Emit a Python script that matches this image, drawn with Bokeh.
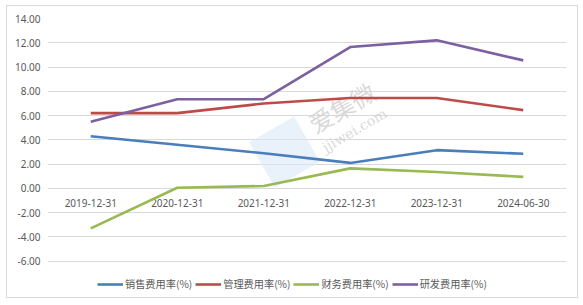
from bokeh.plotting import figure
from bokeh.models import (FixedTicker, NumeralTickFormatter, Legend, LegendItem,
                          ColumnDataSource, Range1d)
from bokeh.core.properties import value
from bokeh.transform import dodge
from bokeh.embed import file_html
from bokeh.resources import INLINE

dates = ["2019-12-31", "2020-12-31", "2021-12-31", "2022-12-31", "2023-12-31", "2024-06-30"]
sales = [4.3, 3.6, 2.9, 2.1, 3.15, 2.85]
admin = [6.2, 6.2, 7.0, 7.45, 7.45, 6.45]
finance = [-3.3, 0.05, 0.2, 1.65, 1.35, 0.95]
rnd = [5.5, 7.35, 7.35, 11.65, 12.2, 10.55]
names = ["销售费用率(%)", "管理费用率(%)", "财务费用率(%)", "研发费用率(%)"]
colors = ["#4a7ebb", "#be4b48", "#98b954", "#7d60a0"]
yticks = [-6, -4, -2, 0, 2, 4, 6, 8, 10, 12, 14]
watermark = ["爱集微", "jjiwei.com"]

p = figure(width=570, height=291, x_range=dates, y_range=Range1d(-8.99, 14),
           output_backend="svg", toolbar_location=None,
           min_border_left=40, min_border_right=13, min_border_top=12, min_border_bottom=2)
p.styles = {"border": "1px solid #d9d9d9", "margin": "5px 0 0 6px", "box-sizing": "content-box"}
p.outline_line_color = None
p.xaxis.visible = False
p.xgrid.grid_line_color = None
p.ygrid.grid_line_color = "#d9d9d9"
p.ygrid.grid_line_width = 1
p.yaxis.ticker = FixedTicker(ticks=yticks)
p.yaxis.formatter = NumeralTickFormatter(format="0.00")
p.yaxis.axis_line_color = None
p.yaxis.major_tick_line_color = None
p.yaxis.minor_tick_line_color = None
p.yaxis.major_tick_in = 0
p.yaxis.major_tick_out = 0
p.yaxis.major_label_standoff = 7
p.yaxis.major_label_text_font = "Noto Sans"
p.yaxis.major_label_text_font_size = "10px"
p.yaxis.major_label_text_color = "#595959"

# faint watermark
wm = ColumnDataSource(dict(x=["2021-12-31"], y=[3.0]))
p.scatter(x=dodge("x", 0.24, range=p.x_range), y="y", source=wm, marker="square",
          size=52, angle=0.52, fill_color="#dbe9f8", fill_alpha=0.6, line_color=None)
p.text(x=dodge("x", 0.9, range=p.x_range), y="y", source=ColumnDataSource(dict(x=["2021-12-31"], y=[6.7], t=[watermark[0]])),
       text="t", angle=0.53, text_align="center", text_baseline="middle",
       text_font=value("Noto Sans CJK SC"), text_font_size="24px", text_color="#cfcfcf", text_alpha=0.8)
p.text(x=dodge("x", 1.05, range=p.x_range), y="y", source=ColumnDataSource(dict(x=["2021-12-31"], y=[4.8], t=[watermark[1]])),
       text="t", angle=0.53, text_align="center", text_baseline="middle",
       text_font=value("DejaVu Serif"), text_font_size="14px", text_color="#cfcfcf", text_alpha=0.8)

src = ColumnDataSource(dict(x=dates, y=[0] * len(dates)))
p.text(x="x", y="y", text="x", source=src, text_align="center", text_baseline="middle",
       y_offset=15, text_font=value("Noto Sans"), text_font_size="10px", text_color="#595959")

items = []
for name, ys, c in zip(names, [sales, admin, finance, rnd], colors):
    r = p.line(dates, ys, line_color=c, line_width=2.6)
    items.append(LegendItem(label=name, renderers=[r]))

legend = Legend(items=items, orientation="horizontal", location=(50, 6),
                label_text_font="Noto Sans CJK SC", label_text_font_size="10.2px",
                label_text_color="#595959", glyph_width=26, glyph_height=14,
                label_standoff=2, spacing=3, label_height=14,
                border_line_color=None, background_fill_alpha=0, padding=0, margin=0)
p.add_layout(legend, "center")

open("out.html", "w").write(file_html(p, INLINE))
